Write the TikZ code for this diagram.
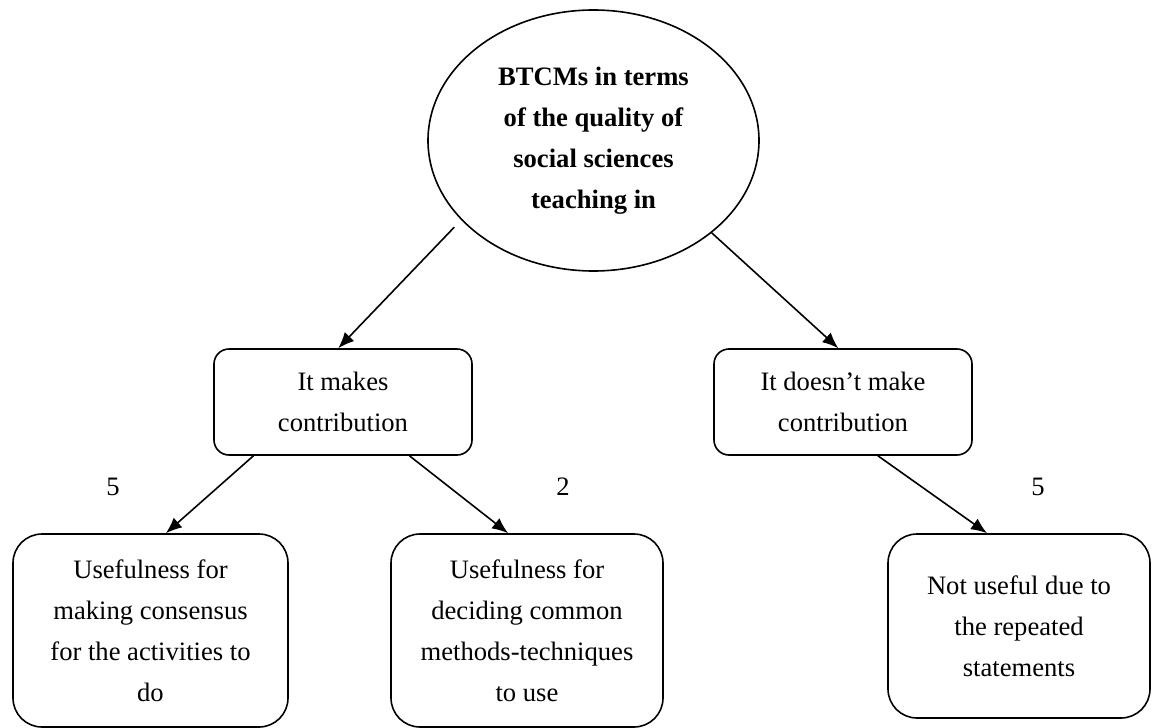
\documentclass[tikz,border=0pt]{standalone}
\usepackage{fontspec}
\setmainfont{Liberation Serif}
\usetikzlibrary{arrows.meta,shapes.geometric}

\begin{document}
\begin{tikzpicture}[x=0.5pt,y=-0.5pt,->,>={Latex[length=8pt,width=6.5pt]},thick,
  font=\fontsize{13.3}{20.5}\selectfont,
  main node/.style={ellipse,draw,align=center,inner sep=0pt,minimum width=165.5pt,
    minimum height=130.5pt,font=\fontsize{13.3}{20.5}\selectfont\bfseries},
  mid node/.style={rectangle,draw,rounded corners=7.5pt,align=center,
    minimum width=129pt,minimum height=53pt},
  leaf node/.style={rectangle,draw,rounded corners=14.5pt,align=center,
    minimum height=96.5pt},
  tally/.style={inner sep=0pt}]
  \useasboundingbox (0,0) rectangle (1153,728);
    \node[main node] (Q) at (593.5,140.5) {BTCMs in terms\\of the quality of\\social sciences\\teaching in};
    \node[mid node] (Yes) at (343,402) {It makes\\contribution};
    \node[mid node] (No) at (843,402) {It doesn't make\\contribution};
    \node[leaf node,minimum width=137.5pt] (U1) at (150.5,630.5) {Usefulness for\\making consensus\\for the activities to\\do};
    \node[leaf node,minimum width=136pt] (U2) at (527,630.5) {Usefulness for\\deciding common\\methods-techniques\\to use};
    \node[leaf node,minimum width=131pt,minimum height=92pt] (N1) at (1019,626) {Not useful due to\\the repeated\\statements};
    \node[tally] (c1) at (113,487) {5};
    \node[tally] (c2) at (563,487) {2};
    \node[tally] (c3) at (1038,487) {5};
    \path (Q.211) edge[shorten <=5pt] (Yes.95)
          (Q.-38) edge (No.95)
          (Yes.211) edge (U1.81)
          (Yes.-39) edge (U2.101)
          (No.-57) edge (N1.109)
    ;
\end{tikzpicture}
\end{document}
